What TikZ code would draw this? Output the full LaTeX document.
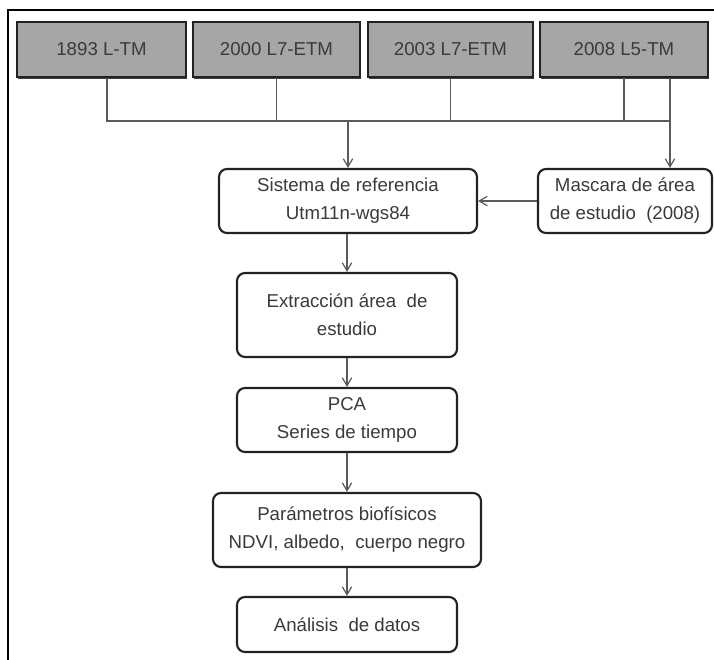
\documentclass[tikz,border=0pt]{standalone}
\usepackage{fontspec}
\setmainfont{Liberation Sans}
\usetikzlibrary{arrows.meta,shadows}
\definecolor{txt}{HTML}{3A3A3A}
\definecolor{edge}{HTML}{222222}
\definecolor{conn}{HTML}{5A5A5A}
\definecolor{boxgray}{HTML}{A6A6A6}
\begin{document}
\begin{tikzpicture}[x=0.75pt,y=-0.75pt,
  font=\fontsize{14pt}{21pt}\selectfont,
  topbox/.style={draw=edge,line width=1.3pt,fill=boxgray,text=txt,
    minimum height=41.25pt,inner sep=0pt,
    drop shadow={shadow xshift=0.8pt,shadow yshift=-1.4pt,fill=black!75,opacity=1}},
  flowbox/.style={draw=edge,line width=1.6pt,rounded corners=6pt,fill=white,
    text=txt,align=center,inner sep=0pt},
  conn/.style={draw=conn,line width=0.9pt},
  arr/.style={conn,-{Straight Barb[length=6pt,width=7pt]}}]
\useasboundingbox (0,0) rectangle (714,660);
\fill[white] (0,0) rectangle (714,660);
% outer frame
\coordinate (frTL) at (8,10);
\coordinate (frTR) at (714,10);
\coordinate (frBL) at (8,660);
\draw[line width=1.1pt,black] (frTR) -- (frTL) -- (frBL);
% top boxes
\node[topbox,minimum width=126.75pt] (b1) at (101.5,49.5) {1893 L-TM};
\node[topbox,minimum width=125.25pt] (b2) at (276.5,49.5) {2000 L7-ETM};
\node[topbox,minimum width=123.75pt] (b3) at (450.5,49.5) {2003 L7-ETM};
\node[topbox,minimum width=126pt] (b4) at (624,49.5) {2008 L5-TM};
% flow boxes
\node[flowbox,minimum width=193.5pt,minimum height=48pt] (sis) at (348,201)
  {Sistema de referencia\\Utm11n-wgs84};
\node[flowbox,minimum width=130.5pt,minimum height=48pt] (mas) at (625,201)
  {Mascara de área\\de estudio\ \ (2008)};
\node[flowbox,minimum width=165pt,minimum height=63pt] (ext) at (347,315)
  {Extracción área\ \ de\\estudio};
\node[flowbox,minimum width=165pt,minimum height=48pt] (pca) at (347,420)
  {PCA\\Series de tiempo};
\node[flowbox,minimum width=201pt,minimum height=55.5pt] (par) at (347,530)
  {Parámetros biofísicos\\NDVI, albedo,\ \ cuerpo negro};
\node[flowbox,minimum width=165pt,minimum height=41.25pt] (ana) at (347,624.5)
  {Análisis\ \ de datos};
% bus
\coordinate (busL) at (107,121);
\coordinate (busR) at (670,121);
\draw[conn] (b1.south -| busL) -- (busL) -- (busR);
\draw[conn] (b2.south) -- (b2.south |- busL);
\draw[conn] (b3.south) -- (b3.south |- busL);
\draw[conn] (b4.south) -- (b4.south |- busL);
\draw[conn] (b4.south -| busR) -- (busR);
\draw[arr] (busR) -- (busR |- mas.north);
\draw[arr] (sis.north |- busL) -- (sis.north);
\draw[arr] (mas.west) -- (sis.east);
\draw[arr] (sis.south -| ext.north) -- (ext.north);
\draw[arr] (ext.south) -- (pca.north);
\draw[arr] (pca.south) -- (par.north);
\draw[arr] (par.south) -- (ana.north);
\end{tikzpicture}
\end{document}
